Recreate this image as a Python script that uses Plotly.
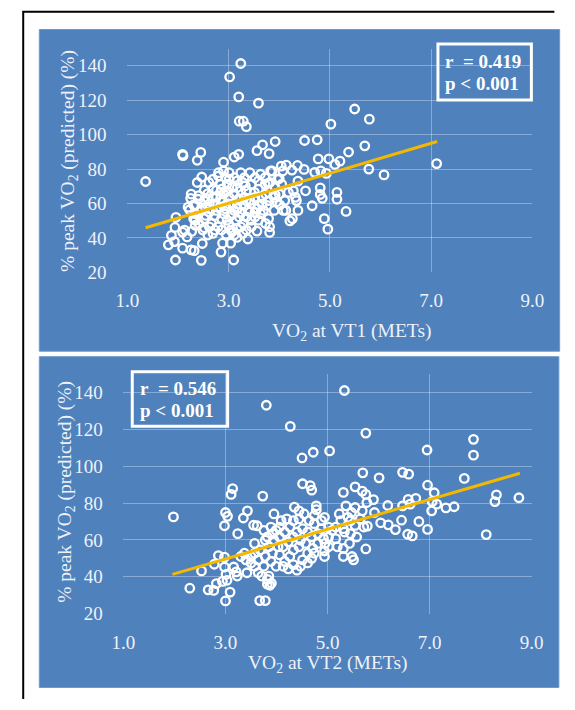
import plotly.graph_objects as go

# ---------------- data ----------------
vt1_x = [1.36, 1.95, 2.46, 3.10, 3.02, 3.24, 3.20, 3.59, 3.21, 3.29, 3.35, 5.02, 5.49, 5.78, 5.69,
         5.37, 4.50, 4.75, 3.92, 3.67, 3.56, 3.80, 2.09, 2.10, 2.45, 2.38, 2.90, 3.11, 3.20, 4.98,
         4.77, 5.20, 5.10, 5.77, 6.07, 7.11, 4.96, 4.89, 5.32, 5.14, 5.14, 4.65, 4.81, 4.81, 4.85,
         4.52, 4.37, 4.21, 4.26, 3.81, 3.81, 3.38, 2.85, 2.88, 3.04, 2.48, 2.26, 2.32, 2.09, 1.81,
         1.93, 1.87, 1.94, 1.96, 2.09, 2.18, 2.27, 2.41, 2.52, 2.95, 3.17, 3.56, 4.28, 4.32, 4.34,
         4.49, 4.36, 4.25, 4.14, 4.70, 4.82, 4.93, 4.37, 4.04, 4.07, 4.00, 4.05, 3.92, 3.95, 3.83,
         3.78, 4.13,
         2.47, 2.38, 2.61, 2.52, 2.26, 2.25, 2.40, 2.31, 2.23, 2.34, 2.31, 2.34, 2.52, 2.62, 2.62,
         2.69, 2.76, 2.84, 2.80, 2.90, 3.01, 3.01, 3.11, 3.17, 3.28, 3.33, 3.42, 3.52, 3.63, 3.72,
         3.81, 3.59, 3.51, 3.73, 3.79, 3.66, 3.56, 3.63, 3.52, 3.42, 3.31, 3.20, 3.11, 3.01, 2.90,
         2.88, 2.83, 2.90, 2.97, 3.04, 3.11, 3.21, 3.28, 3.17, 3.35, 3.45, 2.73, 2.66, 2.79, 2.69,
         2.59, 2.86, 3.07, 2.69, 2.59, 2.76, 2.54, 3.92, 3.90, 4.01, 4.08, 3.73, 3.59, 3.24, 3.17,
         3.31, 3.42, 2.97, 3.07, 3.31, 3.86, 3.52, 3.66,
         2.41, 2.52, 2.62, 2.73, 2.84, 2.94, 3.01, 3.08, 3.15, 3.26, 3.35, 3.45, 3.52, 3.59, 3.69,
         3.76, 3.45, 3.35, 3.59, 2.97, 2.86, 2.76, 2.55, 2.45, 2.86, 3.00, 2.73, 3.24, 3.38, 3.79,
         3.90, 4.00, 4.11, 4.18, 2.20, 2.34, 2.13, 3.04, 3.11, 3.28, 2.62, 2.49, 2.80, 2.94, 3.17,
         2.69, 3.24, 3.72, 3.97, 3.35, 2.94, 3.17, 2.59, 2.34]
vt1_y = [72.8, 27.2, 27.0, 27.2, 133.5, 141.3, 121.9, 118.3, 107.8, 107.8, 104.6, 106.1, 114.9, 109.0, 93.5,
         89.9, 96.6, 97.0, 96.0, 94.1, 90.7, 89.0, 88.6, 87.8, 89.7, 85.1, 84.0, 87.0, 88.6, 85.9,
         85.9, 84.6, 82.7, 80.0, 76.6, 83.2, 45.1, 51.2, 55.4, 66.5, 62.5, 58.7, 69.1, 65.3, 63.0,
         67.4, 56.0, 49.9, 51.2, 46.5, 43.2, 39.4, 31.8, 37.0, 37.0, 36.8, 33.1, 32.6, 34.1, 36.0,
         37.9, 41.5, 46.1, 52.0, 43.4, 40.6, 43.8, 48.4, 45.9, 42.1, 40.4, 44.0, 67.4, 63.6, 61.7,
         79.8, 82.1, 79.4, 82.3, 78.1, 79.0, 77.5, 73.0, 81.7, 78.9, 74.5, 71.2, 65.0, 61.1, 78.9,
         71.6, 56.0,
         75.4, 72.2, 72.2, 67.8, 65.5, 63.0, 62.5, 59.2, 56.4, 54.1, 51.2, 47.4, 51.2, 55.0, 59.8,
         63.6, 67.8, 71.2, 76.0, 78.9, 77.9, 74.1, 75.0, 73.1, 72.2, 70.3, 77.9, 75.0, 77.0, 71.2,
         72.2, 68.4, 66.5, 65.5, 61.7, 59.8, 57.0, 54.1, 52.2, 55.0, 58.9, 62.7, 65.5, 63.6, 65.5,
         61.7, 58.0, 54.1, 50.3, 53.1, 56.0, 52.2, 48.4, 45.5, 44.6, 46.5, 53.1, 48.4, 46.5, 42.7,
         41.7, 44.6, 43.6, 68.6, 65.8, 56.0, 57.9, 69.3, 63.6, 59.2, 56.0, 48.4, 50.3, 67.4, 59.8,
         63.6, 61.7, 71.2, 69.3, 75.0, 78.9, 63.6, 63.6,
         64.6, 61.7, 57.0, 59.8, 62.7, 57.0, 59.8, 54.1, 50.3, 55.0, 52.2, 50.3, 55.0, 58.9, 56.0,
         58.9, 71.2, 67.4, 73.1, 67.4, 68.4, 63.6, 53.1, 56.0, 51.2, 47.4, 44.6, 46.5, 56.0, 51.2,
         56.0, 65.5, 61.7, 66.5, 57.9, 50.3, 44.6, 44.6, 41.7, 42.7, 46.5, 44.6, 77.9, 75.0, 69.3,
         74.1, 77.9, 75.0, 74.1, 61.7, 58.9, 57.0, 62.7, 58.9]

vt2_x = [1.98, 2.30, 2.53, 2.66, 2.77, 2.82, 2.86, 2.98, 2.78, 2.94, 3.03, 3.00, 3.09, 2.98, 3.01,
         3.00, 2.98, 3.04, 3.14, 3.11, 3.24, 3.16, 3.21, 3.23, 3.35, 3.43, 3.42, 3.55, 3.62, 3.73,
         3.80, 3.95, 3.67, 3.78, 3.82, 3.87, 3.90, 3.85, 4.27, 4.35, 4.50, 4.72, 5.04, 5.33, 5.75,
         4.51, 4.66, 4.69, 4.78, 4.78, 4.74, 4.94, 5.31, 5.54, 5.69, 6.01, 6.47, 6.59, 6.95, 7.68,
         7.86, 7.86, 8.11, 8.28, 8.31, 8.75, 6.96, 7.09, 7.05, 6.73, 6.62, 6.58, 7.32, 7.48, 7.14,
         7.04, 6.96, 6.79, 6.45, 6.33, 6.19, 6.04, 6.18, 6.47, 6.57, 6.66, 5.78, 5.75, 5.90, 5.92,
         5.75, 5.68, 5.77, 5.51, 5.48, 5.31, 5.31, 5.19, 4.94, 4.94, 4.69, 4.40, 4.23, 5.57, 5.45,
         5.64, 5.54, 5.36, 5.23, 5.26, 5.40,
         3.57, 3.68, 3.78, 3.89, 3.99, 3.64, 3.75, 3.57, 3.85, 3.95, 4.06, 3.92, 3.82, 3.75, 4.06,
         4.16, 4.26, 4.33, 4.44, 4.51, 4.61, 4.68, 4.81, 4.88, 4.81, 4.71, 4.61, 4.51, 4.44, 4.33,
         4.26, 4.16, 4.06, 4.13, 4.23, 4.33, 4.47, 4.57, 4.40, 4.20, 4.09, 3.99, 3.89, 4.03, 3.92,
         4.13, 4.33, 4.47, 4.61, 4.74, 4.95, 5.02, 5.09, 5.16, 5.02, 4.92, 5.16, 5.33, 5.43, 5.02,
         4.88, 4.74, 4.64, 4.54, 4.44, 3.78, 3.50, 3.40, 3.64, 3.57, 3.71, 3.82, 3.37, 3.30, 3.50,
         5.31, 5.45, 5.54, 5.71, 5.47, 5.68]
vt2_y = [72.5, 33.8, 43.2, 32.9, 32.6, 36.3, 51.5, 50.7, 46.8, 37.5, 38.1, 26.9, 31.7, 45.3, 41.3,
         74.9, 67.7, 72.8, 87.9, 84.7, 63.4, 45.3, 42.7, 40.4, 71.9, 75.8, 42.2, 68.0, 67.7, 83.8,
         133.1, 74.1, 27.1, 27.1, 36.0, 35.4, 36.5, 40.4, 121.6, 77.8, 104.5, 107.6, 108.3, 141.1, 118.0,
         90.5, 89.5, 87.0, 78.5, 76.4, 73.2, 72.3, 85.8, 88.8, 96.4, 93.7, 96.7, 95.7, 108.8, 93.4,
         114.6, 106.0, 62.9, 80.8, 84.5, 82.9, 89.7, 85.6, 80.8, 82.6, 79.4, 82.0, 77.4, 78.0, 79.4,
         75.8, 65.7, 70.0, 70.7, 65.6, 68.2, 69.3, 78.7, 78.5, 63.1, 62.2, 67.5, 55.1, 81.9, 74.9,
         84.7, 86.5, 80.3, 49.2, 51.0, 51.0, 55.4, 56.3, 51.0, 54.0, 50.0, 43.6, 44.3, 61.6, 63.4,
         71.4, 77.6, 78.5, 74.1, 70.5, 72.3,
         58.1, 54.6, 51.0, 48.4, 45.7, 49.2, 45.7, 52.8, 56.3, 59.9, 61.6, 63.4, 61.6, 65.2, 67.0,
         64.3, 67.0, 70.5, 71.4, 66.1, 64.3, 61.6, 63.4, 66.1, 58.1, 55.4, 52.8, 49.2, 56.3, 54.6,
         51.0, 48.4, 51.9, 56.3, 59.0, 61.6, 59.9, 58.1, 64.3, 71.4, 70.5, 65.2, 67.0, 56.3, 52.8,
         45.7, 46.6, 45.7, 47.5, 52.8, 58.1, 61.6, 65.2, 67.0, 67.0, 60.7, 60.7, 64.3, 58.1, 56.3,
         70.5, 68.8, 70.5, 74.1, 75.8, 59.9, 51.0, 49.2, 42.2, 45.7, 40.4, 38.6, 52.8, 51.0, 47.5,
         66.1, 70.5, 67.9, 67.0, 74.9, 75.8]

# linear trend lines (end points)
trend1_x = [1.36, 7.12]
trend1_y = [45.9, 96.0]
trend2_x = [1.96, 8.77]
trend2_y = [41.3, 96.2]

stats1 = ["r\u00a0\u00a0= 0.419", "p < 0.001"]
stats2 = ["r\u00a0\u00a0= 0.546", "p < 0.001"]
x_ticks = [1, 3, 5, 7, 9]
x_ticktext = ["1.0", "3.0", "5.0", "7.0", "9.0"]
y_ticks = [20, 40, 60, 80, 100, 120, 140]
x_title1 = "VO<sub>2</sub> at VT1 (METs)"
x_title2 = "VO<sub>2</sub> at VT2 (METs)"
y_title = "% peak VO<sub>2</sub> (predicted) (%)"

# ---------------- styling ----------------
W, H = 575, 710
BLUE = "#4F81BD"
GRID = "rgba(255,255,255,0.33)"
TXT = "#EEF2F8"
FONT = "Liberation Serif"
TREND = "#F5B800"


def px(x):
    return x / W


def py(y):
    return 1 - y / H


fig = go.Figure()

for xs, ys, tx, ty, xa, ya in [(vt1_x, vt1_y, trend1_x, trend1_y, "x", "y"),
                               (vt2_x, vt2_y, trend2_x, trend2_y, "x2", "y2")]:
    fig.add_trace(go.Scatter(x=xs, y=ys, mode="markers", xaxis=xa, yaxis=ya,
                             marker=dict(symbol="circle-open", size=8.5, color="white",
                                         line=dict(width=2.3, color="white")),
                             showlegend=False, hoverinfo="skip"))
    fig.add_trace(go.Scatter(x=tx, y=ty, mode="lines", xaxis=xa, yaxis=ya,
                             line=dict(color=TREND, width=3), showlegend=False,
                             hoverinfo="skip"))

axis_common = dict(showline=False, zeroline=False, showgrid=True, gridcolor=GRID,
                   gridwidth=1, ticks="outside", tickcolor="rgba(0,0,0,0)",
                   tickfont=dict(family=FONT, size=19, color=TXT), fixedrange=True)

fig.update_layout(
    width=W, height=H, autosize=False,
    margin=dict(l=0, r=0, t=0, b=0),
    paper_bgcolor="white", plot_bgcolor=BLUE,
    hovermode=False, dragmode=False,
    xaxis=dict(domain=[px(120.4), px(543)], range=[1, 9], tickvals=x_ticks,
               ticktext=x_ticktext, anchor="y", ticklen=11, **axis_common),
    yaxis=dict(domain=[py(276.7), py(49.3)], range=[20, 150], tickvals=y_ticks,
               anchor="x", ticklen=16, **axis_common),
    xaxis2=dict(domain=[px(116.3), px(542.3)], range=[1, 9], tickvals=x_ticks,
                ticktext=x_ticktext, anchor="y2", ticklen=12, **axis_common),
    yaxis2=dict(domain=[py(623.3), py(380)], range=[20, 150], tickvals=y_ticks,
                anchor="x2", ticklen=16, **axis_common),
)

frame_path = "M {:.5f},0 L {:.5f},{:.5f} L {:.5f},{:.5f}".format(
    px(11.7), px(11.7), py(12), px(566), py(12))

shapes = [
    # blue chart panels
    dict(type="rect", xref="paper", yref="paper", x0=px(28.5), x1=px(571.5), y0=py(356.7), y1=py(30),
         fillcolor=BLUE, line=dict(color="#6F98CB", width=1), layer="below"),
    dict(type="rect", xref="paper", yref="paper", x0=px(28.5), x1=px(570.7), y0=py(698.3), y1=py(362.3),
         fillcolor=BLUE, line=dict(color="#6F98CB", width=1), layer="below"),
    # outer black frame (left and top sides)
    dict(type="path", xref="paper", yref="paper", path=frame_path,
         line=dict(color="black", width=2)),
    # statistics boxes
    dict(type="rect", xref="paper", yref="paper", x0=px(444.5), x1=px(542), y0=py(101.7), y1=py(44.7),
         line=dict(color="white", width=3), fillcolor="rgba(0,0,0,0)"),
    dict(type="rect", xref="paper", yref="paper", x0=px(125.5), x1=px(225), y0=py(433), y1=py(377.7),
         line=dict(color="white", width=3), fillcolor="rgba(0,0,0,0)"),
]

annotations = []
for txt, x, y in [(stats1[0], 450, 62.7), (stats1[1], 450, 85),
                  (stats2[0], 131.5, 395), (stats2[1], 131.5, 416.7)]:
    annotations.append(dict(text="<b>" + txt + "</b>", x=px(x), y=py(y), xref="paper", yref="paper",
                            xanchor="left", yanchor="middle", showarrow=False,
                            font=dict(family=FONT, size=19, color="white")))
for txt, x, y in [(x_title1, 354, 337), (x_title2, 329, 674)]:
    annotations.append(dict(text=txt, x=px(x), y=py(y), xref="paper", yref="paper",
                            xanchor="center", yanchor="middle", showarrow=False,
                            font=dict(family=FONT, size=19.5, color=TXT)))
for x, y in [(60, 163), (57, 500)]:
    annotations.append(dict(text=y_title, x=px(x), y=py(y), xref="paper", yref="paper",
                            xanchor="center", yanchor="middle", showarrow=False, textangle=-90,
                            font=dict(family=FONT, size=19.5, color=TXT)))

fig.update_layout(shapes=shapes, annotations=annotations)

fig.write_html("out.html", config={"displayModeBar": False, "staticPlot": True},
               post_script="document.body.style.margin='0';")
